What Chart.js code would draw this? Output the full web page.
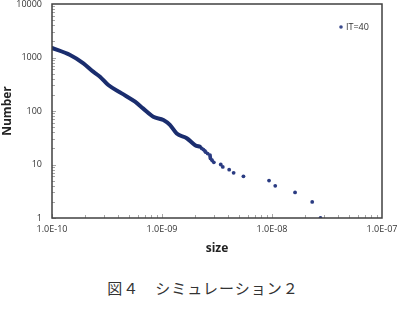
<!DOCTYPE html>
<html>
<head>
<meta charset="utf-8">
<script src="https://cdn.jsdelivr.net/npm/chart.js@4/dist/chart.umd.min.js"></script>
<style>
  html, body { margin: 0; padding: 0; background: #fff; }
  #wrap { position: relative; width: 406px; height: 262px; }
  #caption {
    width: 406px; text-align: center; margin-top: 15px;
    font-family: "Noto Sans CJK JP", sans-serif; font-size: 15px; color: #333;
    letter-spacing: 1px;
  }
</style>
</head>
<body>
<div id="wrap"><canvas id="chart" width="406" height="262"></canvas></div>
<div id="caption">図４　シミュレーション２</div>
<script>
// 曲線部分 (密な点)
const curveSize = [1.0e-10, 1.46e-10, 1.93e-10, 2.37e-10, 2.73e-10, 3.25e-10, 4.3e-10, 5.69e-10,
                   6.72e-10, 8.33e-10, 1.03e-9, 1.18e-9, 1.36e-9, 1.68e-9, 2.0e-9, 2.21e-9];
const curveNumber = [1506, 1113, 779, 543, 438, 306, 214, 149, 112, 78, 68, 55, 38, 31, 23, 21.5];

// 散らばった点
const pointSize = [2.3e-9, 2.38e-9, 2.45e-9, 2.5e-9, 2.6e-9, 2.73e-9, 2.74e-9, 2.76e-9, 2.85e-9, 2.96e-9,
                   3.42e-9, 3.57e-9, 4.08e-9, 4.48e-9, 5.5e-9, 9.4e-9, 1.07e-8, 1.62e-8, 2.32e-8, 2.76e-8];
const pointNumber = [20, 19, 18, 17, 16, 15, 14, 13, 12, 11, 10, 9, 8, 7, 6, 5, 4, 3, 2, 1];

const xTicks = [1e-10, 1e-9, 1e-8, 1e-7];
const yTicks = [1, 10, 100, 1000, 10000];
const seriesLabel = "IT=40";

const navy = '#1a2d6e';
const tickFont = { family: "'Open Sans', 'Liberation Sans', sans-serif", size: 9 };

function fmtExp(v) {
    const e = Math.round(Math.log10(v));
    const n = Math.abs(e).toString().padStart(2, '0');
    return `1.0E${e < 0 ? '-' : ''}${n}`;
}

// 枠と目盛り (内側)
const boxPlugin = {
    id: 'box',
    afterDraw(chart) {
        const { ctx, chartArea: a, scales } = chart;
        ctx.save();
        ctx.lineWidth = 1;
        ctx.beginPath();
        for (let e = -10; e < -7; e++) {
            for (let m = 1; m <= 9; m++) {
                const px = Math.round(scales.x.getPixelForValue(m * Math.pow(10, e))) + 0.5;
                const len = m === 1 ? 4 : 3;
                ctx.moveTo(px, a.bottom);
                ctx.lineTo(px, a.bottom - len);
            }
        }
        for (let e = 0; e < 4; e++) {
            for (let m = 1; m <= 9; m++) {
                const py = Math.round(scales.y.getPixelForValue(m * Math.pow(10, e))) + 0.5;
                const len = m === 1 ? 4 : 3;
                ctx.moveTo(a.left, py);
                ctx.lineTo(a.left + len, py);
            }
        }
        ctx.strokeStyle = '#a6a6a6';
        ctx.stroke();
        ctx.strokeStyle = '#404040';
        ctx.lineWidth = 1.5;
        ctx.strokeRect(a.left, a.top, a.right - a.left, a.bottom - a.top);

        // 凡例
        const lx = a.right - 41, ly = a.top + 23;
        ctx.fillStyle = '#3b4a8c';
        ctx.beginPath();
        ctx.arc(lx, ly, 1.8, 0, Math.PI * 2);
        ctx.fill();
        ctx.fillStyle = '#333';
        ctx.font = "9px 'Open Sans', 'Liberation Sans', sans-serif";
        ctx.textBaseline = 'middle';
        ctx.fillText(seriesLabel, lx + 5, ly);
        ctx.restore();
    }
};

const ctx = document.getElementById('chart').getContext('2d');
const chart = new Chart(ctx, {
    type: 'scatter',
    data: {
        datasets: [
            {
                label: seriesLabel + ' curve',
                data: curveSize.map((s, i) => ({ x: s, y: curveNumber[i] })),
                showLine: true,
                borderColor: navy,
                borderWidth: 4,
                pointRadius: 0,
                cubicInterpolationMode: 'monotone',
                borderCapStyle: 'round'
            },
            {
                label: seriesLabel,
                data: pointSize.map((s, i) => ({ x: s, y: pointNumber[i] })),
                pointRadius: 1.9,
                pointBorderWidth: 0,
                backgroundColor: '#2a3b82',
                borderColor: '#2a3b82'
            }
        ]
    },
    options: {
        responsive: false,
        animation: false,
        layout: { padding: { top: 4, right: 24, left: 0, bottom: 0 } },
        plugins: { legend: { display: false }, tooltip: { enabled: false } },
        scales: {
            x: {
                type: 'logarithmic',
                min: 1e-10,
                max: 1e-7,
                afterBuildTicks: (scale) => { scale.ticks = xTicks.map(v => ({ value: v })); },
                afterFit: (scale) => { scale.height = 44; scale.paddingLeft = 0; scale.paddingRight = 0; },
                grid: { display: false, drawTicks: false },
                border: { display: false },
                ticks: { font: tickFont, color: '#333', padding: 6, autoSkip: false, maxRotation: 0,
                         callback: (v) => fmtExp(v) },
                title: { display: true, text: 'size', color: '#222', padding: { top: 0, bottom: 6 },
                         font: { family: "'Open Sans', 'Liberation Sans', sans-serif", size: 12, weight: 'bold' } }
            },
            y: {
                type: 'logarithmic',
                min: 1,
                max: 10000,
                afterBuildTicks: (scale) => { scale.ticks = yTicks.map(v => ({ value: v })); },
                afterFit: (scale) => { scale.width = 52; scale.paddingTop = 0; scale.paddingBottom = 0; },
                grid: { display: false, drawTicks: false },
                border: { display: false },
                ticks: { font: tickFont, color: '#333', padding: 10, autoSkip: false,
                         callback: (v) => String(v) },
                title: { display: true, text: 'Number', color: '#222', padding: { top: 0, bottom: 0 },
                         font: { family: "'Open Sans', 'Liberation Sans', sans-serif", size: 12, weight: 'bold' } }
            }
        }
    },
    plugins: [boxPlugin]
});
</script>
</body>
</html>
